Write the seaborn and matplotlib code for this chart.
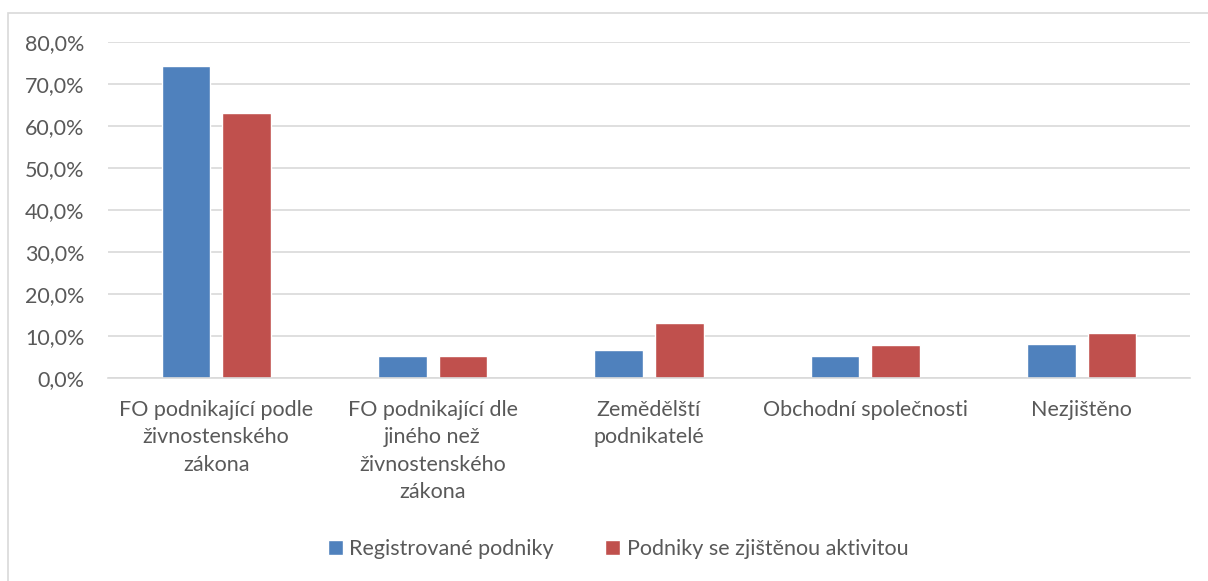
import matplotlib
matplotlib.use("Agg")
import matplotlib.pyplot as plt
import seaborn as sns
import pandas as pd
from matplotlib.patches import Rectangle
from matplotlib.ticker import FuncFormatter

categories = [
    "FO podnikající podle\nživnostenského\nzákona",
    "FO podnikající dle\njiného než\nživnostenského\nzákona",
    "Zemědělští\npodnikatelé",
    "Obchodní společnosti",
    "Nezjištěno",
]
series_names = ["Registrované podniky", "Podniky se zjištěnou aktivitou"]
registrovane = [74.3, 5.3, 6.6, 5.3, 8.0]
aktivni = [63.0, 5.2, 13.1, 7.9, 10.6]
yticks = [0, 10, 20, 30, 40, 50, 60, 70, 80]

df = pd.DataFrame({
    "kategorie": categories * 2,
    "serie": [series_names[0]] * 5 + [series_names[1]] * 5,
    "hodnota": registrovane + aktivni,
})

sns.set_theme(style="white")
plt.rcParams["font.family"] = ["Lato", "DejaVu Sans"]
text_color = "#595959"
fs = 15.5

fig = plt.figure(figsize=(12.08, 5.81), dpi=100)
ax = fig.add_axes([108/1208, 1-378/581, (1190-108)/1208, (378-42)/581])

sns.barplot(data=df, x="kategorie", y="hodnota", hue="serie",
            palette=["#4F81BD", "#C0504D"], width=0.56, gap=0.2,
            ax=ax, legend=True, saturation=1)

ax.set_ylim(0, 80)
ax.set_yticks(yticks)
ax.yaxis.set_major_formatter(FuncFormatter(lambda v, p: f"{v:.1f}%".replace(".", ",")))
ax.grid(axis="y", color="#d9d9d9", linewidth=1.2)
ax.set_axisbelow(True)
for s in ["top", "right", "left"]:
    ax.spines[s].set_visible(False)
ax.spines["bottom"].set_color("#d9d9d9")
ax.spines["bottom"].set_linewidth(1.2)
ax.set_xlabel("")
ax.set_ylabel("")
ax.tick_params(axis="both", length=0, colors=text_color, labelsize=fs)
ax.tick_params(axis="y", pad=17)
ax.tick_params(axis="x", pad=16)
for lab in ax.get_xticklabels():
    lab.set_linespacing(1.45)
    lab.set_verticalalignment("top")

handles, labels = ax.get_legend_handles_labels()
ax.get_legend().remove()
fig.legend(handles, labels, loc="center", bbox_to_anchor=(618/1208, 1-549/581),
           ncol=2, frameon=False, fontsize=fs, labelcolor=text_color,
           handlelength=0.7, handleheight=0.7, handletextpad=0.3, columnspacing=2.4)

fig.patches.append(Rectangle((8/1208, -0.05), 1.0, 1.05-13/581, transform=fig.transFigure,
                             fill=False, edgecolor="#d9d9d9", linewidth=1.2))

fig.savefig("out.png", dpi=100)
